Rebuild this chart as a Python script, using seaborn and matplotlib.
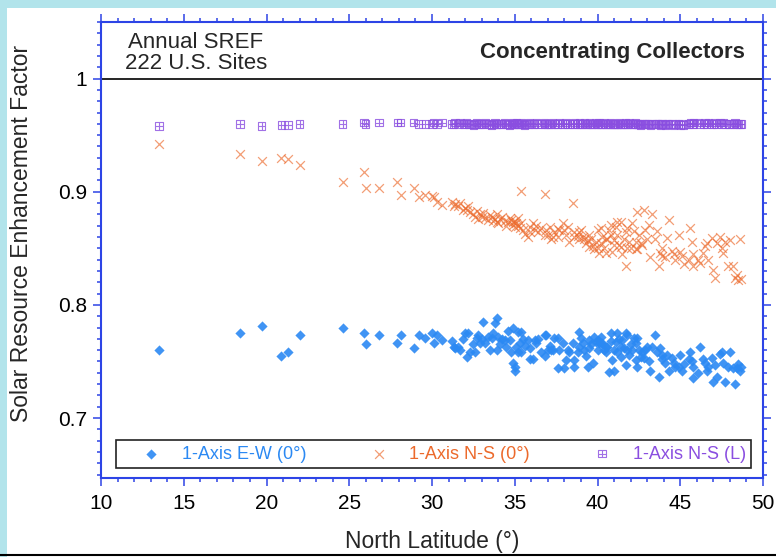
import matplotlib.pyplot as plt
import seaborn as sns
from matplotlib.path import Path
from matplotlib.ticker import MultipleLocator, FuncFormatter
from matplotlib.lines import Line2D
from matplotlib.patches import Rectangle

# latitude of each site (deg N)
latitude = [
    13.5, 18.4, 19.7, 20.9, 21.3, 22.0, 24.6, 25.9, 26.0, 26.8, 27.9, 28.1, 28.9, 29.2, 29.6, 30.0, 30.1, 30.3, 30.6, 31.2, 31.3, 31.4,
    31.6, 31.7, 31.9, 32.0,
    32.1, 32.2, 32.3, 32.5, 32.6, 32.7, 32.8, 32.9,
    33.0, 33.1, 33.2, 33.4, 33.5, 33.6, 33.7, 33.8, 33.9, 33.9,
    34.0, 34.1, 34.2, 34.4, 34.5, 34.6, 34.7, 34.8, 34.9, 34.9, 35.0,
    35.0, 35.1, 35.2, 35.2, 35.3, 35.4, 35.4, 35.5, 35.6, 35.8, 35.9, 35.9,
    36.1, 36.2, 36.3, 36.4, 36.6, 36.8, 36.8, 36.9,
    37.0, 37.1, 37.2, 37.3, 37.4, 37.6, 37.6, 37.7, 37.9,
    38.0, 38.1, 38.2, 38.3, 38.5, 38.6, 38.6, 38.8, 38.9, 38.9,
    39.0, 39.1, 39.2, 39.3, 39.4, 39.5, 39.5, 39.6, 39.7, 39.8, 39.9, 40.0, 40.0,
    40.1, 40.2, 40.2, 40.3, 40.4, 40.5, 40.5, 40.6, 40.7, 40.8, 40.8, 40.9, 41.0, 41.0,
    41.1, 41.2, 41.2, 41.3, 41.4, 41.4, 41.5, 41.6, 41.7, 41.7, 41.8, 41.8, 41.9, 42.0,
    42.1, 42.2, 42.3, 42.3, 42.4, 42.4, 42.5, 42.6, 42.7, 42.8, 42.9,
    43.0, 43.1, 43.2, 43.3, 43.5, 43.6, 43.7, 43.8, 43.9, 43.9,
    44.1, 44.2, 44.3, 44.5, 44.6, 44.7, 44.9, 45.0,
    45.1, 45.2, 45.5, 45.6, 45.7, 45.8, 45.8,
    46.1, 46.2, 46.4, 46.5, 46.6, 46.7, 46.9, 47.0,
    47.1, 47.2, 47.4, 47.5, 47.6, 47.7, 47.9,
    48.0, 48.2, 48.3, 48.4, 48.5, 48.6, 48.7,
]

# 1-Axis E-W (0°)
sref_ew = [
    0.760, 0.775, 0.781, 0.755, 0.758, 0.773, 0.780, 0.775, 0.765, 0.773, 0.766, 0.773, 0.762, 0.773, 0.771, 0.775, 0.766, 0.773, 0.769, 0.768, 0.763, 0.762,
    0.763, 0.760, 0.770, 0.775,
    0.754, 0.775, 0.758, 0.765, 0.758, 0.771, 0.773, 0.766,
    0.770, 0.785, 0.766, 0.772, 0.760, 0.771, 0.775, 0.784, 0.788, 0.760,
    0.772, 0.765, 0.770, 0.769, 0.763, 0.777, 0.769, 0.758, 0.780, 0.749, 0.742,
    0.745, 0.763, 0.758, 0.776, 0.766, 0.776, 0.758, 0.770, 0.764, 0.769, 0.762, 0.752,
    0.752, 0.769, 0.766, 0.770, 0.758, 0.755, 0.773, 0.773,
    0.760, 0.764, 0.760, 0.760, 0.771, 0.744, 0.771, 0.760, 0.766,
    0.744, 0.751, 0.760, 0.758, 0.766, 0.751, 0.745, 0.758, 0.776, 0.763,
    0.771, 0.766, 0.760, 0.755, 0.745, 0.769, 0.762, 0.765, 0.749, 0.772, 0.767, 0.769, 0.760,
    0.766, 0.766, 0.772, 0.766, 0.760, 0.758, 0.763, 0.763, 0.741, 0.775, 0.768, 0.751, 0.742, 0.760,
    0.767, 0.775, 0.758, 0.770, 0.763, 0.754, 0.769, 0.762, 0.747, 0.775, 0.773, 0.760, 0.756, 0.765,
    0.760, 0.771, 0.751, 0.766, 0.771, 0.745, 0.760, 0.754, 0.758, 0.753, 0.760,
    0.763, 0.750, 0.742, 0.763, 0.773, 0.758, 0.736, 0.762, 0.756, 0.752,
    0.749, 0.756, 0.742, 0.753, 0.749, 0.745, 0.745, 0.756,
    0.742, 0.748, 0.752, 0.758, 0.750, 0.735, 0.745,
    0.740, 0.763, 0.752, 0.749, 0.742, 0.745, 0.753, 0.732,
    0.747, 0.736, 0.757, 0.758, 0.749, 0.732, 0.745,
    0.758, 0.744, 0.730, 0.744, 0.748, 0.742, 0.745,
]

# 1-Axis N-S (0°)
sref_ns0 = [
    0.942, 0.933, 0.927, 0.930, 0.929, 0.924, 0.909, 0.917, 0.903, 0.903, 0.909, 0.897, 0.903, 0.895, 0.897, 0.896, 0.895, 0.891, 0.888, 0.891, 0.887, 0.889,
    0.887, 0.890, 0.884, 0.886,
    0.884, 0.887, 0.882, 0.880, 0.878, 0.883, 0.876, 0.880,
    0.878, 0.881, 0.877, 0.875, 0.879, 0.878, 0.874, 0.876, 0.873, 0.880,
    0.872, 0.876, 0.878, 0.874, 0.870, 0.873, 0.877, 0.875, 0.871, 0.873, 0.869,
    0.874, 0.872, 0.877, 0.870, 0.868, 0.901, 0.872, 0.866, 0.863, 0.860, 0.864, 0.869,
    0.872, 0.866, 0.870, 0.864, 0.868, 0.898, 0.862, 0.866,
    0.862, 0.869, 0.858, 0.860, 0.864, 0.860, 0.867, 0.866, 0.872,
    0.866, 0.862, 0.869, 0.856, 0.890, 0.864, 0.860, 0.861, 0.864, 0.858,
    0.866, 0.860, 0.858, 0.855, 0.857, 0.851, 0.862, 0.858, 0.852, 0.849, 0.856, 0.850, 0.866,
    0.846, 0.868, 0.855, 0.860, 0.850, 0.846, 0.858, 0.858, 0.866, 0.871, 0.862, 0.847, 0.853, 0.857,
    0.869, 0.873, 0.862, 0.853, 0.873, 0.851, 0.845, 0.858, 0.834, 0.864, 0.850, 0.868, 0.856, 0.850,
    0.872, 0.865, 0.856, 0.849, 0.882, 0.849, 0.862, 0.855, 0.853, 0.884, 0.866,
    0.858, 0.871, 0.842, 0.880, 0.858, 0.865, 0.834, 0.846, 0.850, 0.843,
    0.842, 0.859, 0.875, 0.848, 0.845, 0.840, 0.862, 0.847,
    0.843, 0.836, 0.840, 0.868, 0.856, 0.834, 0.845,
    0.840, 0.837, 0.846, 0.852, 0.855, 0.840, 0.859, 0.831,
    0.824, 0.855, 0.860, 0.850, 0.846, 0.856, 0.834,
    0.857, 0.834, 0.824, 0.826, 0.822, 0.858, 0.823,
]

# 1-Axis N-S (L)
sref_nsl = [
    0.958, 0.960, 0.958, 0.959, 0.959, 0.960, 0.960, 0.961, 0.960, 0.961, 0.961, 0.961, 0.961, 0.960, 0.960, 0.960, 0.961, 0.960, 0.961, 0.960, 0.960, 0.961,
    0.960, 0.961, 0.960, 0.960,
    0.961, 0.960, 0.960, 0.959, 0.960, 0.961, 0.960, 0.960,
    0.960, 0.960, 0.961, 0.960, 0.960, 0.959, 0.960, 0.961, 0.960, 0.960,
    0.960, 0.960, 0.960, 0.961, 0.960, 0.960, 0.959, 0.960, 0.960, 0.961, 0.960,
    0.960, 0.961, 0.960, 0.960, 0.960, 0.961, 0.960, 0.960, 0.959, 0.960, 0.960, 0.961,
    0.960, 0.960, 0.961, 0.960, 0.960, 0.960, 0.961, 0.960,
    0.960, 0.960, 0.960, 0.961, 0.960, 0.960, 0.960, 0.961, 0.960,
    0.960, 0.961, 0.960, 0.960, 0.960, 0.961, 0.960, 0.960, 0.960, 0.961,
    0.960, 0.960, 0.961, 0.960, 0.960, 0.960, 0.961, 0.960, 0.960, 0.960, 0.961, 0.960, 0.960,
    0.961, 0.960, 0.960, 0.960, 0.961, 0.960, 0.960, 0.960, 0.960, 0.961, 0.960, 0.960, 0.960, 0.960,
    0.960, 0.960, 0.960, 0.961, 0.960, 0.960, 0.960, 0.960, 0.961, 0.960, 0.960, 0.960, 0.961, 0.960,
    0.960, 0.960, 0.960, 0.961, 0.960, 0.960, 0.960, 0.959, 0.960, 0.960, 0.960,
    0.960, 0.960, 0.959, 0.960, 0.960, 0.960, 0.960, 0.959, 0.960, 0.960,
    0.959, 0.960, 0.960, 0.960, 0.959, 0.960, 0.960, 0.959,
    0.960, 0.959, 0.960, 0.961, 0.960, 0.960, 0.961,
    0.961, 0.960, 0.960, 0.961, 0.960, 0.961, 0.960, 0.960,
    0.961, 0.960, 0.961, 0.960, 0.961, 0.960, 0.960,
    0.960, 0.960, 0.961, 0.960, 0.960, 0.960, 0.960,
]

series_labels = ['1-Axis E-W (0°)', '1-Axis N-S (0°)', '1-Axis N-S (L)']

blue = '#2b89f3'
orange = '#ec6a2c'
purple = '#8a4ee0'
axis_blue = '#2d44e6'

sns.set_style('ticks')
plt.rcParams['font.family'] = ['Liberation Sans', 'DejaVu Sans']

fig = plt.figure(figsize=(7.76, 5.57), dpi=100)
fig.patch.set_facecolor('#b2e4eb')
# white page with cyan border top/left, black rule at the bottom
fig.patches.append(Rectangle((7 / 776, 0), 769 / 776, 549 / 557, transform=fig.transFigure,
                             facecolor='white', edgecolor='none', zorder=-5))
fig.lines.append(Line2D([0, 1], [1 - 554.5 / 557] * 2, transform=fig.transFigure, color='black',
                        lw=1.5, zorder=-4))

ax = fig.add_axes([101 / 776, 1 - 478 / 557, 662 / 776, 456 / 557])
ax.set_zorder(2)
ax.set_facecolor('white')

# marker: square with a plus inside
boxplus = Path([(-1, -1), (1, -1), (1, 1), (-1, 1), (-1, -1), (0, -1), (0, 1), (-1, 0), (1, 0)],
               [Path.MOVETO, Path.LINETO, Path.LINETO, Path.LINETO, Path.CLOSEPOLY,
                Path.MOVETO, Path.LINETO, Path.MOVETO, Path.LINETO])

sns.scatterplot(x=latitude, y=sref_ew, marker='D', s=27, color=blue, linewidth=0, alpha=0.9,
                label=series_labels[0], ax=ax, zorder=3)
sns.scatterplot(x=latitude, y=sref_ns0, marker='x', s=40, color=orange, linewidth=0.9, alpha=0.65,
                label=series_labels[1], ax=ax, zorder=3)
sns.scatterplot(x=latitude, y=sref_nsl, marker=boxplus, s=28, facecolors='none', edgecolor=purple,
                linewidth=0.8, alpha=0.8, label=series_labels[2], ax=ax, zorder=3)

ax.axhline(1, color='black', lw=1.2, zorder=2)

ax.set_xlim(10, 50)
ax.set_ylim(0.647, 1.05)
ax.xaxis.set_major_locator(MultipleLocator(5))
ax.xaxis.set_minor_locator(MultipleLocator(1))
ax.yaxis.set_major_locator(MultipleLocator(0.1))
ax.yaxis.set_minor_locator(MultipleLocator(0.01))
ax.yaxis.set_major_formatter(FuncFormatter(lambda v, _: f'{v:g}'))

ax.tick_params(which='both', direction='out', top=True, right=True, color=axis_blue, width=1.1,
               labelcolor='black')
ax.tick_params(which='major', length=6, labelsize=15)
ax.tick_params(axis='x', which='major', pad=5.5)
ax.tick_params(axis='y', which='major', pad=4)
ax.tick_params(which='minor', length=3)
for sp in ax.spines.values():
    sp.set_color(axis_blue)
    sp.set_linewidth(1.5)

ax.set_xlabel('North Latitude (°)', fontsize=16.5)
ax.xaxis.set_label_coords(0.5, -0.114)
ax.set_ylabel('Solar Resource Enhancement Factor', fontsize=16.5)
ax.yaxis.set_label_coords(-0.103, 0.536)

ax.text(0.1435, 0.932, 'Annual SREF\n222 U.S. Sites', transform=ax.transAxes, ha='center', va='center',
        fontsize=16, linespacing=0.98)
ax.text(0.973, 0.934, 'Concentrating Collectors', transform=ax.transAxes, ha='right', va='center',
        fontsize=16, fontweight='bold')

leg = ax.legend(loc='lower left', bbox_to_anchor=(0.023, 0.022, 0.959, 0.061), mode='expand', ncol=3,
                fontsize=13, frameon=True, fancybox=False, edgecolor='#222222', framealpha=1,
                borderpad=0.3, handlelength=3.3, handletextpad=0.05, borderaxespad=0, scatterpoints=1)
leg.get_frame().set_linewidth(1.2)
for t, c in zip(leg.get_texts(), [blue, orange, purple]):
    t.set_color(c)

fig.savefig('out.png', dpi=100)
plt.close(fig)
